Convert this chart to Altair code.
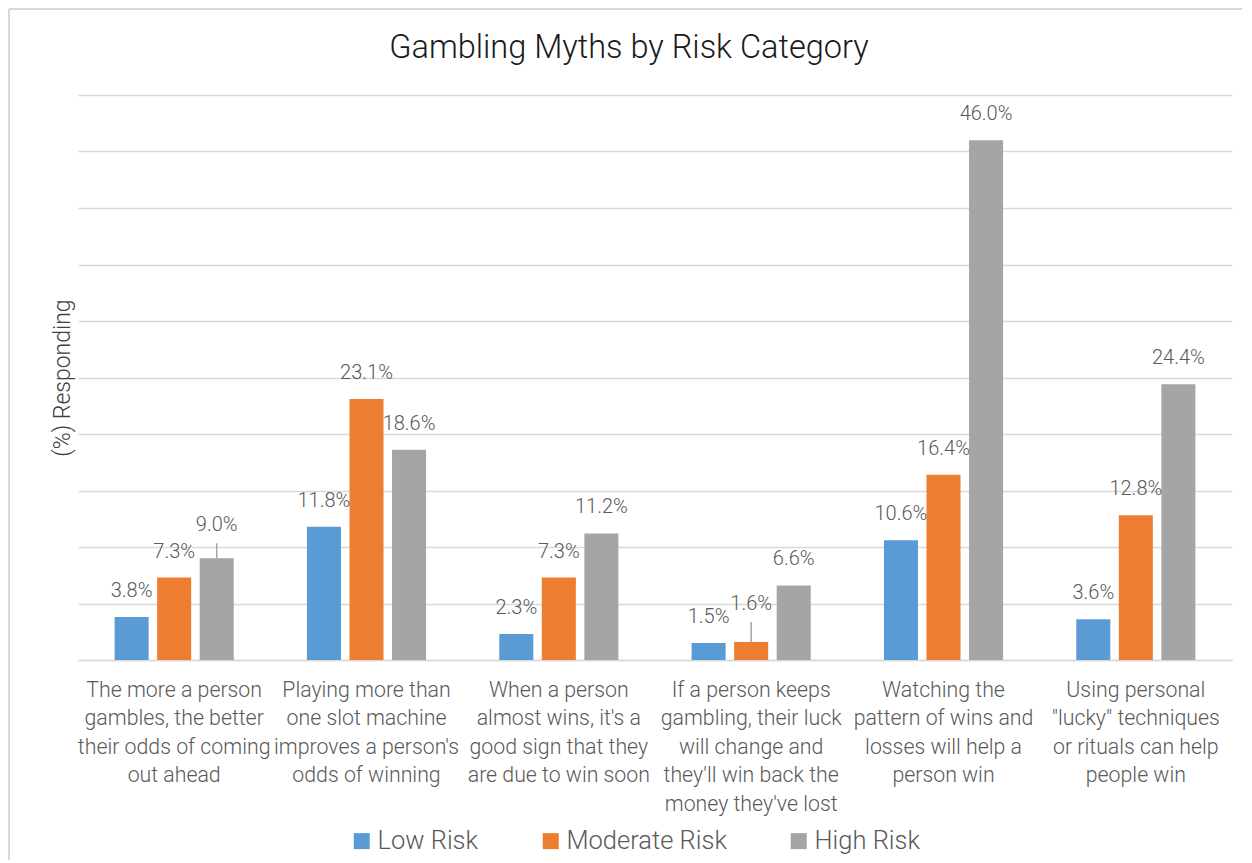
import altair as alt
import pandas as pd

title_text = "Gambling Myths by Risk Category"
categories = [
    "The more a person|gambles, the better|their odds of coming|out ahead",
    "Playing more than|one slot machine|improves a person's|odds of winning",
    "When a person|almost wins, it's a|good sign that they|are due to win soon",
    "If a person keeps|gambling, their luck|will change and|they'll win back the|money they've lost",
    "Watching the|pattern of wins and|losses will help a|person win",
    "Using personal|\"lucky\" techniques|or rituals can help|people win",
]
series = ["Low Risk", "Moderate Risk", "High Risk"]
low_risk = [3.8, 11.8, 2.3, 1.5, 10.6, 3.6]
moderate_risk = [7.3, 23.1, 7.3, 1.6, 16.4, 12.8]
high_risk = [9.0, 18.6, 11.2, 6.6, 46.0, 24.4]
colors = ["#5B9BD5", "#ED7D31", "#A5A5A5"]
y_ticks = [0, 5, 10, 15, 20, 25, 30, 35, 40, 45, 50]
# labels that Excel moved up with a leader line: (category index, series)
callouts = [(0, "High Risk"), (3, "Moderate Risk")]

rows = []
for i, c in enumerate(categories):
    for s, vals in zip(series, [low_risk, moderate_risk, high_risk]):
        rows.append({"cat": c, "series": s, "value": vals[i],
                     "label": f"{vals[i]:.1f}%",
                     "callout": (i, s) in callouts})
df = pd.DataFrame(rows)

FONT = "Roboto"
TXT = "#595959"

x_enc = alt.X("cat:N", sort=categories, title=None,
              scale=alt.Scale(paddingInner=0, paddingOuter=0),
              axis=alt.Axis(labelExpr="split(datum.label, '|')", labelAngle=0,
                            labelFontSize=21.3, labelLineHeight=28.5, labelColor=TXT,
                            labelFont=FONT, labelFontWeight=300, labelPadding=19,
                            labelBaseline="top",
                            ticks=False, domain=True, domainColor="#D9D9D9",
                            domainWidth=1.5, grid=False, labelLimit=400))
xo_enc = alt.XOffset("series:N", sort=series,
                     scale=alt.Scale(paddingInner=0.2, paddingOuter=0.86))
y_scale = alt.Scale(domain=[0, 50], nice=False)

base = alt.Chart(df)

bars = base.mark_bar().encode(
    x=x_enc,
    xOffset=xo_enc,
    y=alt.Y("value:Q", scale=y_scale, title="(%) Responding",
            axis=alt.Axis(values=y_ticks, labels=False, ticks=False, domain=False,
                          grid=True, gridColor="#D9D9D9", gridWidth=1.5,
                          titleFontSize=23, titleFont=FONT, titleFontWeight=300,
                          titleColor="#404040", titlePadding=4)),
    color=alt.Color("series:N", sort=series,
                    scale=alt.Scale(domain=series, range=colors),
                    legend=alt.Legend(title=None, orient="none", direction="horizontal",
                                      legendX=271, legendY=733,
                                      symbolType="square", symbolSize=256,
                                      symbolStrokeWidth=0, labelFontSize=25.5,
                                      labelFont=FONT, labelFontWeight=300,
                                      labelColor=TXT, labelOffset=3,
                                      columnPadding=59, labelLimit=400)),
)

labels = base.transform_filter("!datum.callout").mark_text(
    dy=-26, fontSize=20, font=FONT, fontWeight=300, color=TXT, baseline="middle"
).encode(x=alt.X("cat:N", sort=categories), xOffset=xo_enc,
         y=alt.Y("value:Q", scale=y_scale), text="label:N")

callout_labels = base.transform_filter("datum.callout").transform_calculate(
    top="datum.value + (datum.value < 3 ? 1.77 : 1.33)"
).mark_text(dy=-18, fontSize=20, font=FONT, fontWeight=300, color=TXT,
            baseline="middle").encode(
    x=alt.X("cat:N", sort=categories), xOffset=xo_enc,
    y=alt.Y("top:Q", scale=y_scale), text="label:N")

leaders = base.transform_filter("datum.callout").transform_calculate(
    top="datum.value + (datum.value < 3 ? 1.77 : 1.33)"
).mark_rule(color="#A6A6A6", strokeWidth=1.5).encode(
    x=alt.X("cat:N", sort=categories), xOffset=xo_enc,
    y=alt.Y("value:Q", scale=y_scale), y2="top:Q")

title_mark = alt.Chart(pd.DataFrame({"t": [title_text]})).mark_text(
    fontSize=32.5, font=FONT, fontWeight=300, color="#1A1A1A",
    align="center", baseline="alphabetic"
).encode(x=alt.value(551), y=alt.value(-37), text="t:N")

frame_left = alt.Chart(df).mark_rule(color="#D9D9D9", strokeWidth=2).encode(
    x=alt.value(-69), y=alt.value(-86), y2=alt.value(780))
frame_top = alt.Chart(df).mark_rule(color="#D9D9D9", strokeWidth=2).encode(
    x=alt.value(-69), x2=alt.value(1180), y=alt.value(-86))

chart = alt.layer(frame_left, frame_top, bars, leaders, labels, callout_labels,
                  title_mark).properties(
    width=1154, height=565,
    autosize=alt.AutoSizeParams(type="none"),
    padding={"left": 70, "top": 87, "right": 10, "bottom": 200},
).configure_view(stroke=None)

chart.save("out.html", embed_options={"renderer": "svg", "actions": False})
